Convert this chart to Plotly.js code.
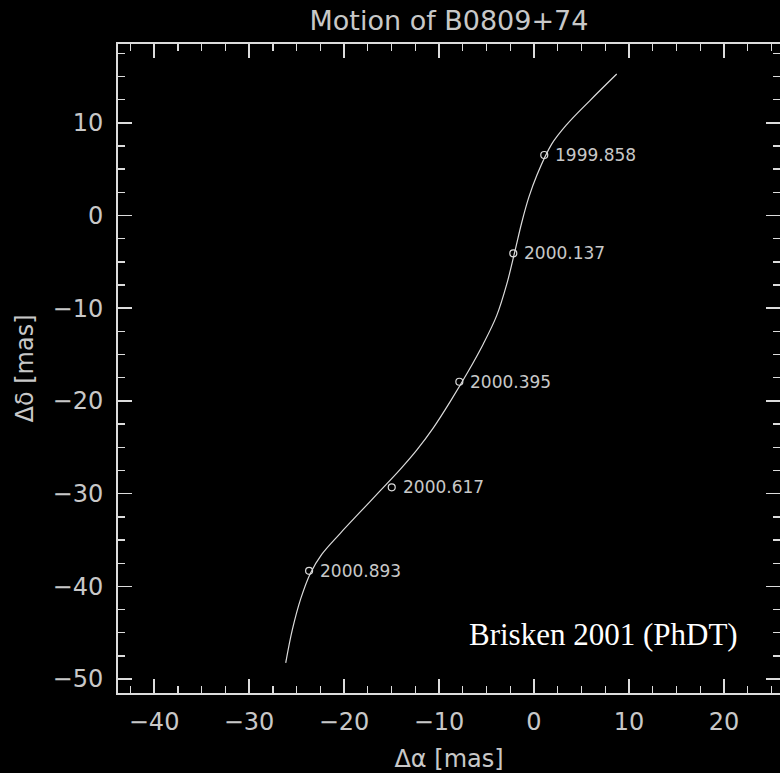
<!DOCTYPE html>
<html>
<head>
<meta charset="utf-8">
<script src="https://cdn.plot.ly/plotly-3.0.1.min.js"></script>
<style>
  html, body { margin: 0; padding: 0; background: #000; }
  #chart { width: 780px; height: 773px; }
</style>
</head>
<body>
<div id="chart"></div>
<script>
// Model track of the pulsar on the sky (proper motion + parallax), in mas
const trackRA  = [-26.14, -25.45, -24.55, -23.55, -22.35, -20.42, -18.32, -16.21, -14.11, -12.35,
                  -10.60, -8.84, -6.92, -5.34, -3.93, -2.87, -2.00, -1.29, -0.55, 0.30,
                  1.86, 3.44, 5.89, 8.71];
const trackDec = [-48.24, -44.70, -41.30, -38.60, -36.55, -34.30, -32.00, -29.70, -27.40, -25.30,
                  -22.90, -20.10, -16.80, -13.85, -10.80, -7.40, -3.80, -0.75, 1.95, 4.35,
                  7.70, 9.80, 12.40, 15.26];

// Measured positions at each observing epoch
const epochs  = ["1999.858", "2000.137", "2000.395", "2000.617", "2000.893"];
const epochRA  = [1.08, -2.18, -7.86, -14.98, -23.68];
const epochDec = [6.53, -4.08, -17.93, -29.32, -38.32];

const fg = '#dcdcdc';
const labelGrey = '#c8c8c8';
const sans = 'DejaVu Sans, sans-serif';

const track = {
  x: trackRA, y: trackDec,
  type: 'scatter', mode: 'lines',
  line: { color: fg, width: 1.2, shape: 'spline', smoothing: 1 },
  hoverinfo: 'skip'
};

const points = {
  x: epochRA, y: epochDec,
  type: 'scatter', mode: 'markers',
  marker: { symbol: 'circle-open', size: 7, color: fg, line: { width: 1.2, color: fg } },
  hoverinfo: 'skip'
};

const epochLabels = epochs.map((t, i) => ({
  x: epochRA[i], y: epochDec[i], xref: 'x', yref: 'y',
  text: t, showarrow: false, xanchor: 'left', yanchor: 'middle',
  xshift: 9, font: { family: sans, size: 17, color: labelGrey }
}));

const axisCommon = {
  showgrid: false, zeroline: false,
  showline: true, linecolor: fg, linewidth: 2,
  mirror: 'ticks',
  ticks: 'inside', ticklen: 14, tickwidth: 1.6, tickcolor: fg,
  tick0: 0, dtick: 10,
  minor: { ticks: 'inside', ticklen: 7, tickwidth: 1.4, tickcolor: fg, dtick: 2.5, tick0: 0, showgrid: false },
  tickfont: { family: sans, size: 24, color: labelGrey },
  automargin: false
};

const layout = {
  width: 780, height: 773,
  paper_bgcolor: '#000', plot_bgcolor: '#000',
  margin: { l: 118, r: 0, t: 44, b: 80 },
  showlegend: false,
  title: {
    text: 'Motion of B0809+74',
    font: { family: sans, size: 27, color: labelGrey },
    x: 0.5, xref: 'paper', xanchor: 'center',
    y: 0.974, yref: 'container', yanchor: 'middle'
  },
  xaxis: Object.assign({}, axisCommon, {
    range: [-43.8, 25.9],
    ticklabelstandoff: 6,
    title: { text: 'Δα [mas]', font: { family: sans, size: 24, color: labelGrey }, standoff: 18 }
  }),
  yaxis: Object.assign({}, axisCommon, {
    range: [-51.5, 18.5],
    ticklabelstandoff: 8,
    title: { text: 'Δδ [mas]', font: { family: sans, size: 24, color: labelGrey }, standoff: 12 }
  }),
  annotations: epochLabels.concat([{
    x: 0.7334, y: 0.0894, xref: 'paper', yref: 'paper',
    text: 'Brisken 2001 (PhDT)', showarrow: false,
    xanchor: 'center', yanchor: 'middle',
    font: { family: 'Liberation Serif, Times New Roman, serif', size: 31, color: '#ffffff' }
  }])
};

Plotly.newPlot('chart', [track, points], layout, { displayModeBar: false, staticPlot: true });
</script>
</body>
</html>
